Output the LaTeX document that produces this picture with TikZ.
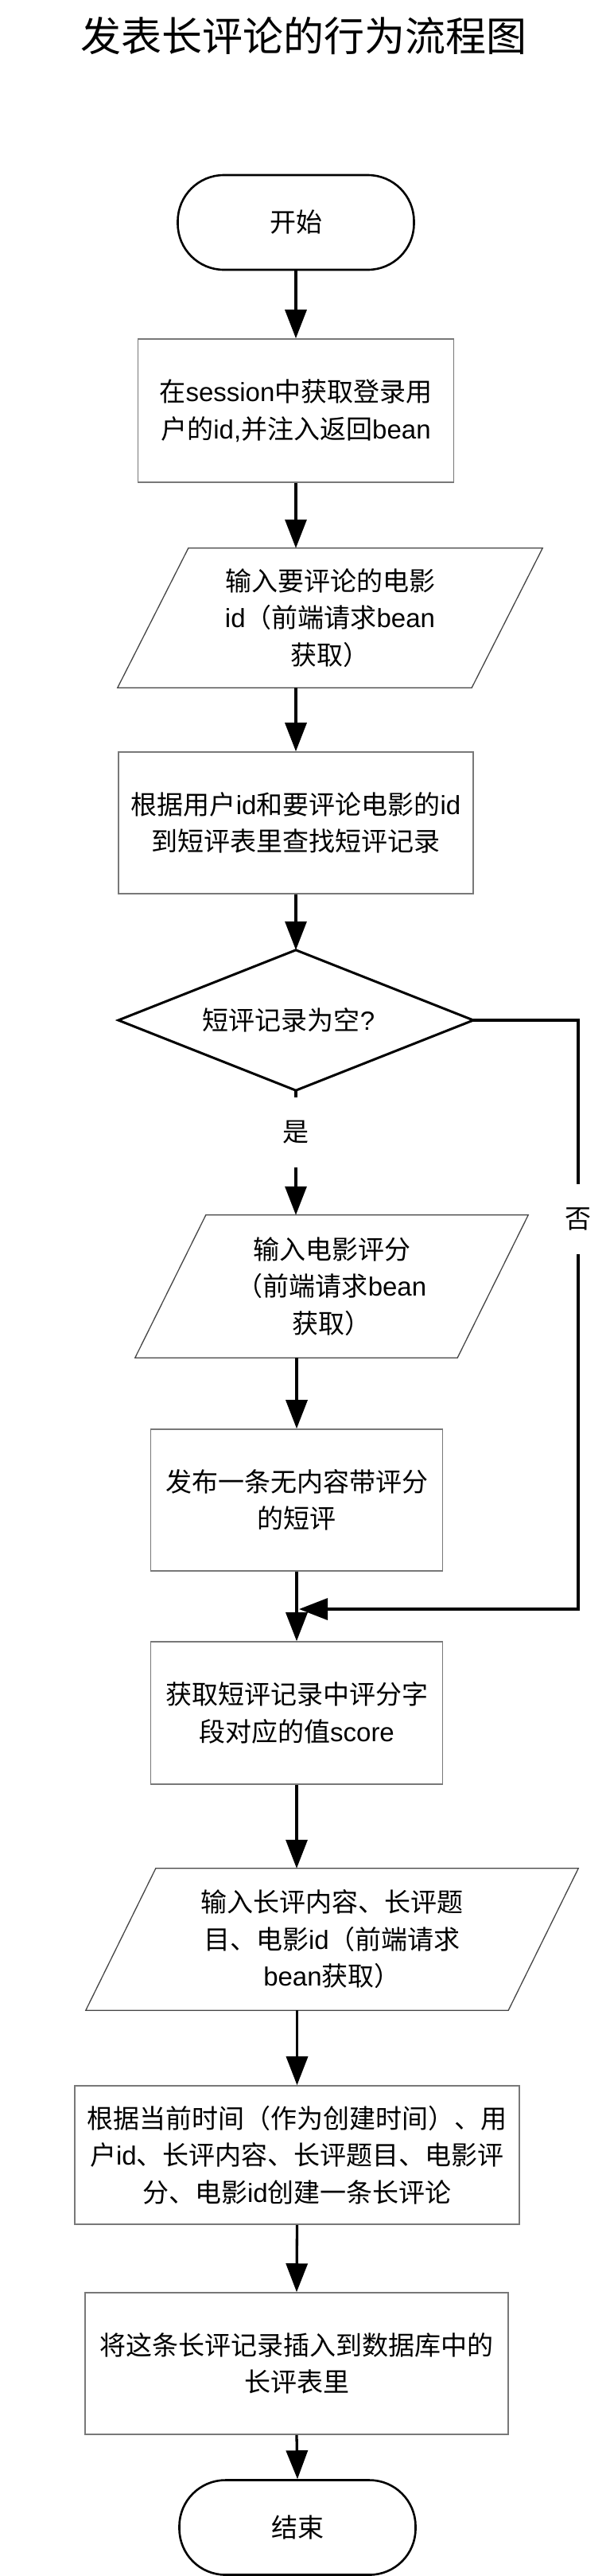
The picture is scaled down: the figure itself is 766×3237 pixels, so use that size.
\documentclass[tikz,border=0pt]{standalone}
\usepackage{fontspec}
\setmainfont{Noto Sans CJK SC}
\newfontfamily\latfont{Liberation Sans}
\newcommand\lat[1]{{\latfont #1}}
\usetikzlibrary{arrows.meta,shapes.geometric}
\definecolor{boxgray}{RGB}{120,120,120}
\definecolor{pargray}{RGB}{70,70,70}
\begin{document}
\begin{tikzpicture}[x=1pt,y=-1pt,
  every node/.style={font=\fontsize{33}{46.5}\selectfont, align=center, inner sep=0pt},
  flow/.style={line width=3.3pt, -{Triangle[length=36pt,width=27pt]}},
  procbox/.style={draw=boxgray, line width=1.6pt, rectangle},
  term/.style={draw=black, line width=2.6pt, rectangle, rounded corners=58pt, minimum width=297pt, minimum height=119pt},
  parnode/.style={rectangle},
  parline/.style={draw=pargray, line width=1.3pt},
  decline/.style={draw=black, line width=3pt, line join=miter},
  lab/.style={fill=white, minimum height=88pt, minimum width=36pt}
]
\useasboundingbox (0,0) rectangle (766,3237);

\node (title) at (382,45) {\fontsize{51}{58}\selectfont 发表长评论的行为流程图};

\node[term] (start) at (372,279.5) {开始};

\node[procbox, minimum width=397pt, minimum height=180pt] (b1) at (372,516)
  {在\lat{session}中获取登录用\\户的\lat{id,}并注入返回\lat{bean}};

\node[parnode, minimum width=534pt, minimum height=175pt] (p1) at (415,776.5)
  {输入要评论的电影\\\lat{id}（前端请求\lat{bean}\\获取）};
\draw[parline] ([xshift=89pt]p1.north west) -- (p1.north east) -- ([xshift=-89pt]p1.south east) -- (p1.south west) -- cycle;

\node[procbox, minimum width=446pt, minimum height=178pt] (b2) at (372,1034)
  {根据用户\lat{id}和要评论电影的\lat{id}\\到短评表里查找短评记录};

\node[rectangle, minimum width=446pt, minimum height=176pt] (dia) at (372,1282)
  {短评记录为空\lat{?}\hspace*{18pt}};
\draw[decline] (dia.north) -- (dia.east) -- (dia.south) -- (dia.west) -- cycle;

\node[parnode, minimum width=494pt, minimum height=179pt] (p2) at (417,1616.5)
  {输入电影评分\\（前端请求\lat{bean}\\获取）};
\draw[parline] ([xshift=89pt]p2.north west) -- (p2.north east) -- ([xshift=-89pt]p2.south east) -- (p2.south west) -- cycle;

\node[procbox, minimum width=367pt, minimum height=178pt] (b3) at (373,1885)
  {发布一条无内容带评分\\的短评};

\node[procbox, minimum width=367pt, minimum height=179pt] (b4) at (373,2152.5)
  {获取短评记录中评分字\\段对应的值\lat{score}};

\node[parnode, minimum width=619pt, minimum height=178pt] (p3) at (417.5,2437)
  {输入长评内容、长评题\\目、电影\lat{id}（前端请求\\\lat{bean}获取）};
\draw[parline] ([xshift=88pt]p3.north west) -- (p3.north east) -- ([xshift=-88pt]p3.south east) -- (p3.south west) -- cycle;

\node[procbox, minimum width=559pt, minimum height=174pt] (b5) at (373.5,2708)
  {根据当前时间（作为创建时间）、用\\户\lat{id}、长评内容、长评题目、电影评\\分、电影\lat{id}创建一条长评论};

\node[procbox, minimum width=532pt, minimum height=178pt] (b6) at (373,2970)
  {将这条长评记录插入到数据库中的\\长评表里};

\node[term] (stop) at (374,3176) {结束};

\coordinate (nr) at (727,1282);
\coordinate (nb) at (727,2022);

\draw[flow] (start.south) -- (b1.north);
\draw[flow] (b1.south) -- (b1.south |- p1.north);
\draw[flow] (p1.south -| b2.north) -- (b2.north);
\draw[flow] (b2.south) -- (dia.north);
\draw[flow] (dia.south) -- node[lab, pos=0.338] {是} (dia.south |- p2.north);
\draw[flow] (p2.south -| b3.north) -- (b3.north);
\draw[flow] (b3.south) -- (b4.north);
\draw[flow] (dia.east) -- (nr) -- node[lab, pos=0.338] {否} (nb) -- ([xshift=3pt]b3.south |- nb);
\draw[flow] (b4.south) -- (b4.south |- p3.north);
\draw[flow] (p3.south -| b5.north) -- (b5.north);
\draw[flow] (b5.south) -- (b6.north);
\draw[flow] (b6.south) -- (stop.north);
\end{tikzpicture}
\end{document}
